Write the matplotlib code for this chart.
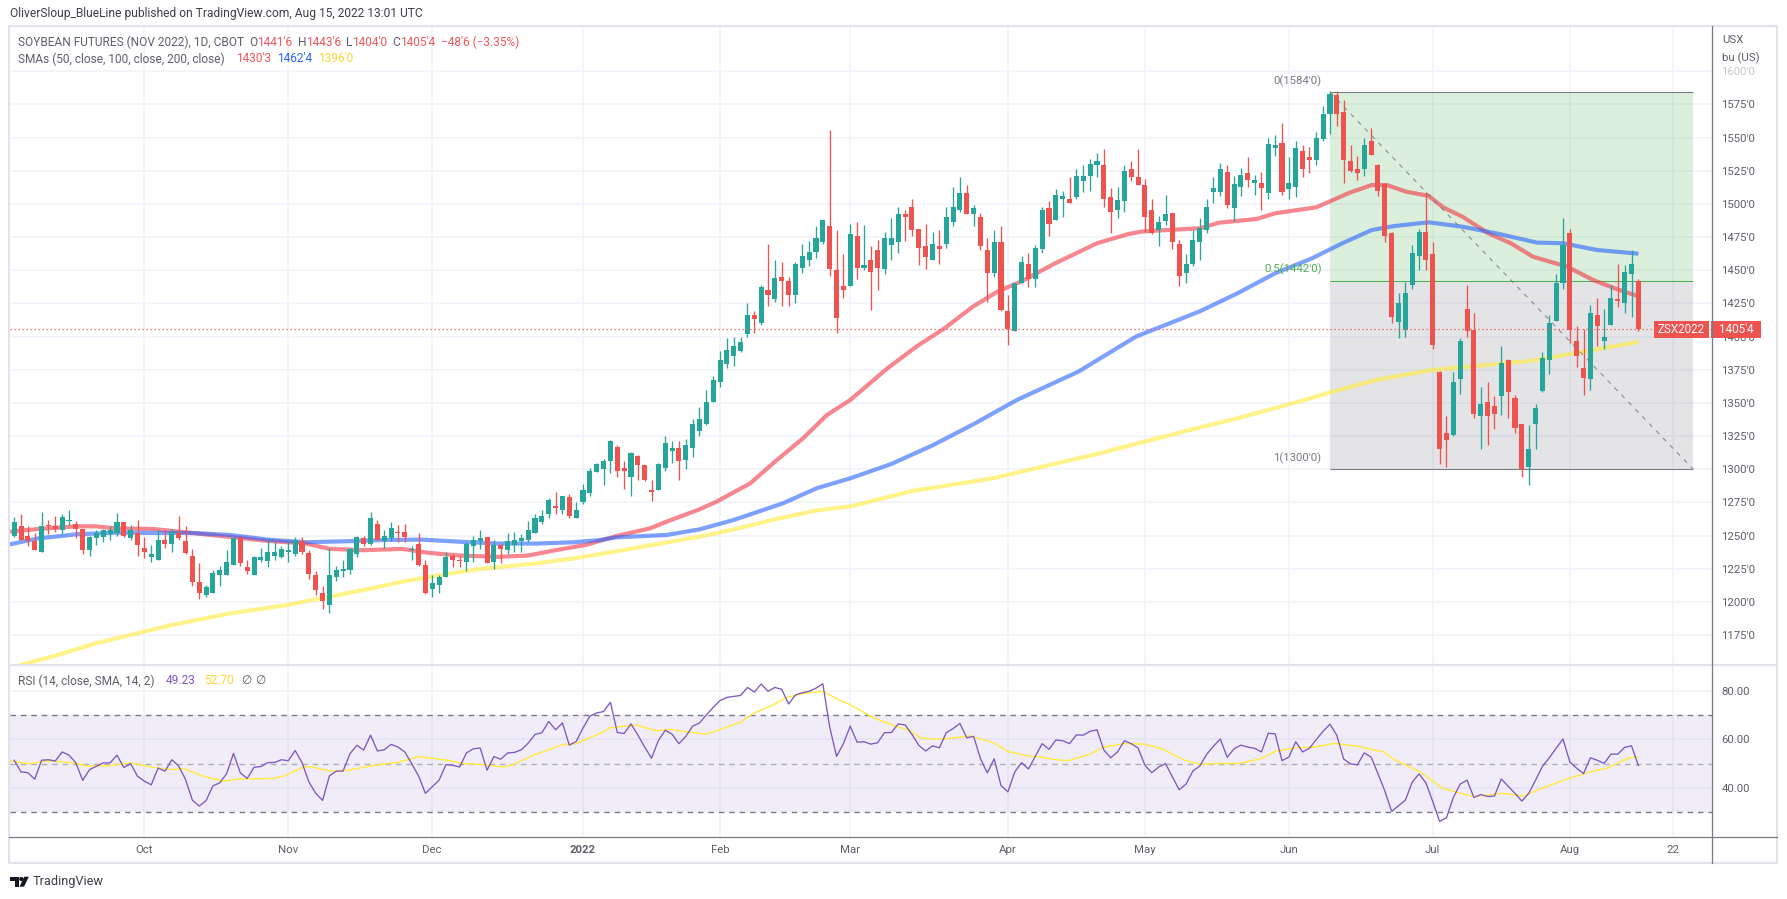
import numpy as np
import matplotlib
matplotlib.use("Agg")
import matplotlib.pyplot as plt
from matplotlib.patches import Rectangle, Polygon, Circle

plt.rcParams['font.family'] = ['Roboto', 'DejaVu Sans']

opens = [
1250,1257,1250,1246,1238,1258,1257,1254,1261,1259,
1255,1239,1248,1249,1251,1252,1260,1248,1252,1241,
1234,1232,1247,1244,1252,1246,1235,1215,1205,1207,
1220,1220,1228,1248,1226,1220,1232,1231,1235,1234,
1238,1236,1246,1237,1220,1207,1198,1219,1223,1224,
1236,1248,1244,1259,1246,1248,1253,1253,1239,1244,
1228,1210,1213,1219,1235,1232,1230,1242,1246,1249,
1230,1243,1239,1243,1246,1247,1252,1260,1266,1272,
1269,1279,1263,1275,1282,1298,1300,1306,1317,1301,
1294,1310,1303,1284,1284,1301,1314,1316,1307,1316,
1329,1334,1351,1366,1379,1385,1389,1402,1416,1410,
1435,1428,1445,1442,1431,1452,1458,1464,1471,1483,
1450,1438,1438,1476,1452,1458,1465,1451,1469,1471,
1492,1498,1481,1468,1458,1468,1470,1486,1495,1508,
1492,1490,1465,1448,1471,1419,1404,1440,1455,1443,
1466,1497,1488,1504,1504,1505,1517,1521,1529,1529,
1505,1495,1502,1526,1520,1514,1495,1480,1487,1493,
1470,1448,1455,1471,1480,1509,1509,1524,1497,1513,
1523,1516,1516,1508,1542,1546,1511,1513,1540,1535,
1533,1549,1568,1582,1569,1532,1526,1526,1547,1529,
1515,1478,1411,1405,1439,1461,1479,1462,1373,1327,
1326,1368,1421,1405,1340,1351,1348,1355,1382,1354,
1334,1302,1334,1359,1382,1412,1440,1478,1397,1376,
1368,1416,1397,1409,1428,1425,1447,1441.75]
closes = [
1260,1247,1246,1239,1257,1257,1255,1264,1262,1255,
1239,1249,1252,1254,1254,1260,1250,1254,1243,1238,
1236,1247,1244,1253,1248,1237,1215,1207,1211,1222,
1224,1230,1248,1229,1223,1234,1234,1238,1238,1240,
1239,1247,1238,1221,1209,1201,1220,1224,1225,1240,
1249,1244,1263,1247,1250,1256,1252,1249,1240,1228,
1207,1214,1219,1234,1232,1231,1244,1247,1248,1229,
1243,1240,1246,1247,1248,1254,1263,1265,1277,1271,
1280,1265,1269,1284,1299,1304,1306,1321,1299,1299,
1312,1303,1292,1283,1304,1320,1316,1306,1318,1334,
1338,1351,1367,1382,1390,1393,1396,1416,1413,1437,
1431,1444,1442,1431,1455,1461,1464,1474,1488,1451,
1414,1435,1477,1452,1454,1449,1452,1474,1474,1492,
1490,1480,1467,1460,1470,1466,1490,1498,1508,1492,
1497,1468,1448,1471,1420,1406,1440,1456,1443,1467,
1495,1485,1507,1506,1501,1521,1521,1530,1532,1504,
1494,1503,1525,1520,1514,1490,1478,1486,1492,1471,
1446,1455,1473,1482,1498,1512,1526,1499,1515,1522,
1518,1518,1512,1545,1544,1509,1516,1542,1526,1533,
1550,1568,1583,1568,1533,1525,1523,1544,1537,1510,
1476,1415,1425,1433,1463,1479,1458,1394,1315,1322,
1366,1397,1404,1342,1349,1340,1342,1380,1358,1331,
1300,1315,1346,1384,1410,1440,1469,1405,1385,1369,
1418,1408,1400,1429,1427,1449,1455,1405.5]
highs = [
1264,1266,1257,1252,1268,1262,1265,1266,1269,1261,
1255,1250,1254,1255,1257,1267,1260,1258,1262,1249,
1243,1254,1254,1255,1265,1257,1240,1229,1213,1224,
1227,1239,1249,1250,1232,1235,1241,1248,1245,1242,
1246,1249,1249,1239,1223,1212,1241,1227,1232,1241,
1250,1250,1268,1262,1254,1260,1258,1259,1242,1252,
1232,1220,1220,1238,1236,1235,1245,1250,1254,1249,
1247,1244,1252,1253,1251,1261,1266,1269,1278,1283,
1280,1281,1275,1289,1301,1305,1308,1322,1318,1306,
1313,1311,1303,1292,1305,1325,1321,1321,1323,1338,
1347,1360,1370,1389,1399,1400,1400,1425,1419,1439,
1470,1458,1456,1445,1456,1470,1472,1483,1488,1556,
1480,1462,1485,1486,1484,1468,1473,1479,1489,1498,
1495,1504,1481,1485,1479,1480,1498,1513,1520,1514,
1499,1493,1474,1480,1483,1431,1440,1461,1463,1469,
1498,1502,1511,1510,1520,1526,1529,1534,1538,1541,
1512,1513,1529,1532,1541,1519,1504,1491,1507,1493,
1473,1462,1480,1489,1504,1520,1531,1529,1521,1527,
1535,1522,1524,1550,1552,1561,1535,1547,1544,1543,
1554,1574,1585,1585,1578,1544,1536,1550,1557,1530,
1516,1479,1433,1441,1469,1481,1509,1471,1374,1340,
1373,1399,1439,1418,1362,1366,1355,1393,1383,1356,
1334,1333,1349,1388,1416,1447,1489,1481,1408,1406,
1424,1429,1421,1439,1455,1454,1465,1443.75]
lows = [
1249,1247,1242,1239,1238,1251,1253,1251,1258,1248,
1236,1235,1243,1245,1247,1250,1249,1247,1235,1233,
1230,1232,1241,1238,1247,1236,1212,1202,1204,1207,
1212,1220,1228,1227,1221,1220,1230,1226,1232,1233,
1230,1235,1236,1217,1205,1195,1192,1216,1219,1221,
1234,1242,1243,1247,1241,1246,1245,1245,1232,1227,
1206,1204,1207,1219,1226,1226,1223,1230,1240,1229,
1225,1229,1236,1238,1238,1245,1252,1259,1263,1266,
1266,1263,1263,1274,1280,1298,1288,1297,1294,1285,
1280,1292,1291,1276,1284,1299,1305,1292,1300,1309,
1325,1333,1351,1362,1376,1378,1388,1400,1403,1409,
1423,1426,1423,1423,1425,1448,1453,1459,1470,1446,
1403,1429,1438,1443,1450,1420,1435,1447,1458,1463,
1472,1476,1454,1451,1458,1455,1467,1483,1494,1492,
1483,1465,1426,1445,1419,1394,1404,1440,1437,1437,
1463,1476,1488,1490,1501,1504,1509,1510,1520,1498,
1478,1489,1494,1517,1514,1479,1477,1468,1484,1466,
1438,1440,1453,1458,1478,1501,1506,1497,1487,1506,
1513,1507,1495,1504,1536,1507,1504,1505,1520,1523,
1529,1547,1553,1559,1516,1524,1518,1521,1537,1506,
1471,1410,1399,1400,1436,1450,1450,1391,1304,1302,
1325,1357,1400,1339,1315,1318,1330,1341,1339,1327,
1294,1288,1315,1358,1372,1412,1436,1395,1377,1356,
1360,1393,1391,1409,1422,1418,1415,1404]

sma50_bar = [-0.67,3.5,9.1,11.9,14.7,20.3,25.9,31.5,37,42.6,46,51,56.6,60.5,65,70.6,75,79,83.4,87.9,92.8,95.2,100,102.5,107.4,111.3,115.1,118.6,122,127.4,131.8,135.7,139.9,143.5,146.9,151.9,158,162.6,164.8,173,175.8,181.3,184,190,194.9,198.1,200.3,203.1,206.4,208.5,211.3,215.1,218.4,221.6,226.6,230.4,234.2,237]
sma50_val = [1253,1255,1257,1257,1255.5,1255,1252,1249,1246,1244,1240,1239,1240,1237,1235,1234,1235,1239,1243,1249.7,1255.5,1260.5,1269.8,1275.6,1289.4,1307,1323.3,1340.9,1352.2,1376,1393,1406,1422.6,1433.9,1441.4,1455.2,1470.3,1477.3,1479.3,1481.6,1485.8,1488.6,1492.9,1497.4,1508.5,1514.2,1514.2,1509.2,1506,1497.4,1490.4,1477.8,1470.3,1460.2,1452.7,1442.6,1435.1,1430.4]
sma100_bar = [-0.67,3.5,9.1,14.7,20.3,25.9,31.5,37,42.6,48.2,53.8,59.4,65,70.6,76.1,81.7,85.5,87.9,95.2,100,105,112.2,117.1,122,128,134,140,146.3,155.3,163.7,173,178.5,184,189.4,193.8,198.1,201.4,206.4,211.3,216.7,222.2,226,231,237]
sma100_val = [1243.4,1247.9,1251,1252.2,1252,1252,1250.5,1247,1245,1245.7,1246.7,1247,1245.4,1244,1244,1245,1246.7,1248.7,1250.5,1254.7,1261.8,1274.4,1285.7,1293.2,1304,1318,1334,1352.2,1373.6,1400,1419,1432.6,1447.7,1459,1470.3,1480.3,1483.3,1486.1,1482.8,1477.3,1470.8,1470.3,1465.2,1462.5]
sma200_bar = [-0.67,0.7,6.3,11.9,17.5,23,31.5,39.8,46,51,56.6,62.2,67.8,76.1,81.7,85.5,90.3,100,104.4,110.8,117.1,122,131,142.6,157.6,172.6,178.5,188.3,192.1,198.7,206.9,221.1,224.9,230.4,237]
sma200_val = [1149,1152.2,1160,1168.8,1175.8,1182.6,1191.4,1197.7,1204,1209,1215.3,1220.3,1224.8,1229,1232.9,1236.1,1240.4,1249.2,1254,1262,1269,1272,1283.6,1293,1311,1331,1338.4,1352.2,1358,1367.3,1374.8,1381.6,1384.9,1389.9,1396]

rsi_values = [
51.4,46.6,46.3,43.6,51.4,51.6,51.1,54.8,53.5,50.3,
43.1,47.6,48.9,50.3,50.3,53.5,48.4,50,44.8,42.8,
41.3,48.2,46.9,51.6,49,43.5,35,32.6,34.8,40.9,
42.1,45.9,54.2,46.2,43.9,48.5,48.8,50.4,50.5,51.6,
51.2,55.4,50.4,42.5,37.8,34.9,45,46.9,47,54.1,
57.5,55.6,61.7,55.2,55.7,57.9,56.8,54.8,50,45,
37.8,40.5,43.2,49.6,49.3,48.6,54.4,56.1,56.4,47.3,
52.9,51.8,54.4,54.6,55.7,58.4,62,62.7,67.3,63.9,
66.7,57.6,59.1,64.6,69.5,70.8,71.4,75.2,62.8,62.4,
66.3,61.8,56.8,52.2,59.5,63.7,62.1,58.2,61.2,65.4,
66.7,70,73.1,75.9,77.2,77.6,78,81.3,79.4,82.7,
79.7,81.3,80.5,74.5,78.2,79.1,79.7,81,82.8,65,
53,58.2,65.4,58.8,59,58,58.6,62.7,62.8,66.3,
65.9,62,57.5,55.2,57.3,56.5,62.7,64.4,66.5,60.6,
61.2,52,46.2,52,41,38.4,46.6,50.4,47.8,53,
58.2,55.9,59.7,59.4,58.2,61.8,61.7,63.3,63.9,55.6,
52.4,54.8,59.4,58.2,56.4,49.3,46.3,48.6,50,44.6,
39.3,41.6,47,49,53.8,57.2,60.1,52.6,56.1,57.6,
56.8,56.3,54.8,62.5,62.2,51.2,52.7,59,54.8,56.3,
59.9,63.3,66.2,61.6,51.9,49.9,49.5,54.4,52.7,45.9,
38.8,30.4,32.7,35,42.4,45.8,42.1,34.4,26.3,27.8,
36.1,41.6,43.2,36.1,37.3,36.5,36.7,43.7,40.7,37.8,
34.6,37.8,43.2,48.9,52.4,56.3,60.1,50.7,48.1,45.9,
52.4,51.4,50.1,53.9,53.9,56.7,57.3,49.23]
rsi_sma_bar = [-0.6,2.3,4.7,8.4,10.8,14,17.1,20.8,22.7,24.7,27.6,30.5,32.5,37.8,39.3,42.2,43.2,46,48,51,52.9,55.8,59.1,63.1,66,68.5,71.4,72.8,75.8,80,82,85.9,86.9,90.8,93.7,95.7,101,106,107.9,110.8,112.7,115.1,118,120.5,122,125.4,128.8,130.7,132.2,133.6,135.6,139.5,142.9,145,147.7,149.7,152.1,153.8,157,158.9,161.8,165,167.7,170.6,173,175.9,178.5,181.8,184.2,187.1,189.8,192.5,195.9,199.8,201.2,205.1,208.5,212.9,217.2,220.2,222.6,227,230.4,232.4,235.8,237]
rsi_sma_val = [51.1,49.9,51.2,50.4,49,49.2,50.3,48.2,47.6,48,44.8,42.8,43.6,43.9,44.8,48.6,48.8,47,47,48.5,49.5,50.4,52.9,51.4,49.9,49.6,48.6,49.6,53.5,57.8,58.2,62.9,64.7,65.9,63.5,64.1,62,67,70.7,74.2,77.2,78.8,79.7,75.9,74.2,68.8,65.2,63.6,60.6,60.1,60.1,61.4,58.6,55,53.3,52.7,51.6,51.2,53.9,56.7,58.2,58,55.9,51.6,49.7,50.1,50,51.9,55.2,56.5,56.8,58.3,57.2,54.9,51.9,46.7,39.8,36.5,37.8,36.7,39.5,44.1,46.9,48.1,52.5,52.7]

price_ticks = list(range(1175, 1601, 25))
month_bars = [19, 40, 61, 83, 103, 122, 145, 165, 186, 207, 227, 242]
month_labels = ['Oct', 'Nov', 'Dec', '2022', 'Feb', 'Mar', 'Apr', 'May', 'Jun', 'Jul', 'Aug', '22']
rsi_ticks = [40, 60, 80]
fib_high, fib_mid, fib_low = 1584, 1442, 1300
fib_start, fib_end = 192, 245
last_price = 1405.5

W, H = 1787, 899
GRID = '#f0f3fa'; UP = '#26a69a'; DOWN = '#ef5350'; TXT = '#5d606b'
fig = plt.figure(figsize=(W/100, H/100), dpi=100, facecolor='white')

def axpx(l, t, r, b):
    return fig.add_axes([l/W, 1-b/H, (r-l)/W, (b-t)/H])

L, R, T0, T1, T2 = 9.6, 1711.7, 26.7, 665, 836.7
ax = axpx(L, T0, R, T1)
rx = axpx(L, T1, R, T2)
XL = (-0.67, 247.7)
for a in (ax, rx):
    a.set_xlim(*XL)
    for s in a.spines.values():
        s.set_visible(False)
    a.set_axisbelow(True)
    a.set_xticks(month_bars)
    a.grid(True, color=GRID, lw=1.1)
    a.yaxis.tick_right()
ax.set_ylim(1152.5, 1633.5)
rx.set_ylim(20, 90.5)

# price axis
ax.set_yticks(price_ticks)
ax.set_yticklabels([f"{v}'0" for v in price_ticks], fontsize=8.2, color=TXT)
ax.tick_params(axis='y', length=0, pad=7)
ax.tick_params(axis='x', length=0, labelbottom=False)
ax.get_yticklabels()[-1].set_alpha(0.35)

# RSI axis
rx.set_yticks(rsi_ticks)
rx.set_yticklabels([f"{v:.2f}" for v in rsi_ticks], fontsize=8.2, color=TXT)
rx.tick_params(axis='y', length=0, pad=7)
rx.set_xticklabels(month_labels, fontsize=8.2, color=TXT)
rx.tick_params(axis='x', length=0, pad=6)
rx.get_xticklabels()[3].set_fontweight('bold')

# Fibonacci block
fw = fib_end - fib_start
ax.add_patch(Rectangle((fib_start, fib_mid), fw, fib_high-fib_mid, fc='#4caf50', alpha=0.2, lw=0, zorder=1))
ax.add_patch(Rectangle((fib_start, fib_low), fw, fib_mid-fib_low, fc='#787b86', alpha=0.2, lw=0, zorder=1))
ax.hlines([fib_high, fib_low], fib_start, fib_end, color='#787b86', lw=0.75, zorder=2)
ax.hlines(fib_mid, fib_start, fib_end, color='#4caf50', lw=0.75, zorder=2)
ax.plot([fib_start, fib_end], [fib_high, fib_low], color='#787b86', alpha=0.85, lw=0.8, ls=(0, (4, 5)), zorder=5)
for v, lab, c, off in ((fib_high, "0(1584'0)", '#787b86', 4), (fib_mid, "0.5(1442'0)", '#4caf50', 4), (fib_low, "1(1300'0)", '#787b86', 4)):
    ax.annotate(lab, (fib_start, v), xytext=(-6, off), textcoords='offset points',
                ha='right', va='bottom', fontsize=8.2, color=c, zorder=6)

# SMAs
ax.plot(sma50_bar, sma50_val, color='#f23645', alpha=0.6, lw=3.0, zorder=3, solid_capstyle='butt')
ax.plot(sma100_bar, sma100_val, color='#2962ff', alpha=0.6, lw=3.0, zorder=3, solid_capstyle='butt')
ax.plot(sma200_bar, sma200_val, color='#ffeb3b', alpha=0.6, lw=3.0, zorder=3, solid_capstyle='butt')

# candles
bars = np.arange(len(closes))
o, c, hi, lo = map(np.array, (opens, closes, highs, lows))
col = np.where(c >= o, UP, DOWN)
ax.vlines(bars, lo, hi, colors=col, lw=0.95, zorder=4)
ax.bar(bars, np.maximum(np.abs(c-o), 1.0), bottom=np.minimum(o, c), width=0.74, color=col, lw=0, zorder=4.1)
ax.hlines(last_price, XL[0], XL[1], color=DOWN, lw=0.9, ls=(0, (1, 2.2)), zorder=5)

# RSI
rx.axhspan(30, 70, fc='#7e57c2', alpha=0.1, lw=0, zorder=1)
rx.hlines([70, 30], *XL, color='#787b86', lw=1.0, ls=(0, (4, 3.5)), zorder=2)
rx.hlines(50, *XL, color='#787b86', alpha=0.55, lw=1.0, ls=(0, (4, 3.5)), zorder=2)
rx.plot(np.arange(len(rsi_values)), rsi_values, color='#7e57c2', lw=0.95, zorder=4)
rx.plot(rsi_sma_bar, rsi_sma_val, color='#ffeb3b', lw=1.0, zorder=3)

# overlay in pixels: frame, header, legends, tags
ov = fig.add_axes([0, 0, 1, 1], zorder=10)
ov.set_xlim(0, W); ov.set_ylim(H, 0); ov.axis('off'); ov.patch.set_alpha(0)
FR = '#e0e3eb'
ov.plot([9, 1777, 1777, 9, 9], [26, 26, 863, 863, 26], color=FR, lw=1.5)
ov.plot([9, 1777], [665, 665], color=FR, lw=1.5)
ov.plot([9, 1777], [837, 837], color='#787b86', lw=0.9)
ov.plot([1711.7, 1711.7], [26, 863], color='#787b86', lw=0.9)

def t(x, y, s, c=TXT, size=8.6, **k):
    ov.text(x, y, s, color=c, fontsize=size, va='center', ha=k.pop('ha', 'left'), **k)

t(10, 14, "OliverSloup_BlueLine published on TradingView.com, Aug 15, 2022 13:01 UTC", '#3c3f4a', 8.64)
t(18, 42, "SOYBEAN FUTURES (NOV 2022), 1D, CBOT")
RED = '#f0565c'
for x, s, cc in ((248.8, 'O', TXT), (257.5, "1441'6", RED), (297.7, 'H', TXT), (306, "1443'6", RED),
                 (345.6, 'L', TXT), (352, "1404'0", RED), (391.9, 'C', TXT), (400, "1405'4", RED),
                 (440.9, "\u221248'6 (\u22123.35%)", RED)):
    t(x, 42, s, cc)
t(18, 59, "SMAs (50, close, 100, close, 200, close)")
t(236.5, 59, "1430'3", RED)
t(277.5, 59, "1462'4", '#2962ff')
t(318.4, 59, "1396'0", '#fdd835')
t(18.4, 681, "RSI (14, close, SMA, 14, 2)")
t(165.3, 681, "49.23", '#7e57c2')
t(203.8, 681, "52.70", '#fdd835')
t(241, 681, "\u2205")
t(255.5, 681, "\u2205")
t(1722, 40, "USX", TXT, 8.2)
t(1722, 58, "bu (US)", TXT, 8.2)

ov.add_patch(Rectangle((1654, 321), 55, 17, fc=DOWN, lw=0))
ov.add_patch(Rectangle((1711.4, 321), 49.6, 17, fc=DOWN, lw=0))
t(1681.5, 329.5, "ZSX2022", 'white', 8.4, ha='center')
t(1736, 329.5, "1405'4", 'white', 8.4, ha='center')

# TradingView mark
ov.add_patch(Polygon([(10.3, 876.7), (19, 876.7), (19, 886.7), (14.6, 886.7), (14.6, 881), (10.3, 881)], fc='#131722', lw=0))
ov.add_patch(Circle((21.3, 879), 2.1, fc='#131722', lw=0))
ov.add_patch(Polygon([(24.2, 876.7), (28.8, 876.7), (24, 886.7), (19.5, 886.7)], fc='#131722', lw=0))
t(33, 882, "TradingView", '#3c3f4a', 9.2)

fig.savefig('out.png', dpi=100, facecolor='white')
